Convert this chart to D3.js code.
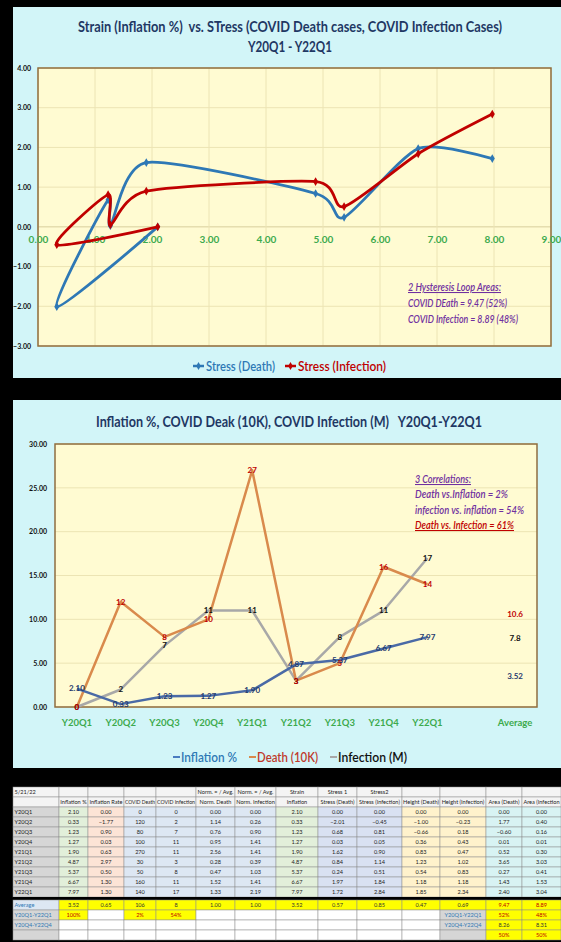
<!DOCTYPE html>
<html><head><meta charset="utf-8">
<script src="https://cdn.jsdelivr.net/npm/d3@7"></script>
<style>body{margin:0;background:#000}svg{display:block}text{font-family:Lato,"Open Sans",sans-serif}</style>
</head><body><svg id="c" width="561" height="942"></svg>
<script>
// ---------------- DATA ----------------
const quarters = ["Y20Q1","Y20Q2","Y20Q3","Y20Q4","Y21Q1","Y21Q2","Y21Q3","Y21Q4","Y22Q1"];
const inflation = [2.10,0.33,1.23,1.27,1.90,4.87,5.37,6.67,7.97];
const inflationRate = [0.00,-1.77,0.90,0.03,0.63,2.97,0.50,1.30,1.30];
const covidDeath = [0,120,80,100,270,30,50,160,140];
const covidInfection = [0,2,7,11,11,3,8,11,17];
const normDeath = [0.00,1.14,0.76,0.95,2.56,0.28,0.47,1.52,1.33];
const normInfection = [0.00,0.26,0.90,1.41,1.41,0.39,1.03,1.41,2.19];
const stressDeath = [0.00,-2.01,0.68,0.03,1.62,0.84,0.24,1.97,1.72];
const stressInfection = [0.00,-0.45,0.81,0.05,0.90,1.14,0.51,1.84,2.84];
const heightDeath = [0.00,-1.00,-0.66,0.36,0.83,1.23,0.54,1.18,1.85];
const heightInfection = [0.00,-0.23,0.18,0.43,0.47,1.02,0.83,1.18,2.34];
const areaDeath = [0.00,1.77,-0.60,0.01,0.52,3.65,0.27,1.43,2.40];
const areaInfection = [0.00,0.40,0.16,0.01,0.30,3.03,0.41,1.53,3.04];
const death10K = [0,12,8,10,27,3,5,16,14];
const averageLabels = [{v:10.6,t:"10.6",s:"death"},{v:7.8,t:"7.8",s:"infection"},{v:3.52,t:"3.52",s:"inflation"}];
const categories = [...quarters, "", "Average"];
const topXTicks = [0,1,2,3,4,5,6,7,8,9];
const topYTicks = [-3,-2,-1,0,1,2,3,4];
const botYTicks = [0,5,10,15,20,25,30];
const header1 = ["5/21/22","","","","","Norm. = / Avg.","Norm. = / Avg.","Strain","Stress 1","Stress2","","","",""];
const header2 = ["","Inflation %","Inflation Rate","COVID Death","COVID Infection","Norm. Death","Norm. Infection","Inflation","Stress (Death)","Stress (Infection)","Height (Death)","Height (Infection)","Area (Death)","Area (Infection"];
const averageRow = ["Average","3.52","0.65","106","8","1.00","1.00","3.52","0.57","0.85","0.47","0.69","9.47","8.89"];
const extraRows = [
  ["Y20Q1-Y22Q1","100%","","2%","54%","","","","","","","Y20Q1-Y22Q1","52%","48%"],
  ["Y20Q4-Y22Q4","","","","","","","","","","","Y20Q4-Y22Q4","8.26","8.31"],
  ["","","","","","","","","","","","","50%","50%"]
];

// ---------------- SETUP ----------------
const svg = d3.select("#c");
const f2 = d3.format(".2f");
const panelFill = "#d2f5f8", plotFill = "#fffbd2", plotBorder = "#8f6d40", gridCol = "#ece4b4";
const navy = "#1f3864", purple = "#7030a0", green = "#3daa4e";
const cBlue = "#2e78b5", cRed = "#c00000";

function fit(sel, w){ sel.attr("textLength", w).attr("lengthAdjust","spacingAndGlyphs"); return sel; }

svg.append("rect").attr("width",561).attr("height",942).attr("fill","#000");
svg.append("rect").attr("x",13).attr("y",7).attr("width",548).attr("height",371).attr("fill",panelFill);
svg.append("rect").attr("x",13).attr("y",400).attr("width",548).attr("height",368).attr("fill",panelFill);

// ---------------- TOP CHART ----------------
const tx = d3.scaleLinear().domain([0,9]).range([38,551]);
const ty = d3.scaleLinear().domain([-3,4]).range([346,68]);
const gTop = svg.append("g");

fit(gTop.append("text").attr("x",290).attr("y",32).attr("text-anchor","middle").attr("font-size",15).attr("font-weight",700).attr("fill",navy)
  .style("white-space","pre").text("Strain (Inflation %)  vs. STress (COVID Death cases, COVID Infection Cases)"), 424);
fit(gTop.append("text").attr("x",290).attr("y",52).attr("text-anchor","middle").attr("font-size",15).attr("font-weight",700).attr("fill",navy)
  .text("Y20Q1 - Y22Q1"), 84);

gTop.append("rect").attr("x",tx(0)).attr("y",ty(4)).attr("width",tx(9)-tx(0)).attr("height",ty(-3)-ty(4)).attr("fill",plotFill);
gTop.append("g").selectAll("line").data(topYTicks).join("line")
  .attr("x1",tx(0)).attr("x2",tx(9)).attr("y1",d=>ty(d)).attr("y2",d=>ty(d)).attr("stroke",d=>d===0?"#d8cf9c":gridCol).attr("stroke-width",1);
gTop.append("g").selectAll("line").data(topXTicks).join("line")
  .attr("y1",ty(4)).attr("y2",ty(-3)).attr("x1",d=>tx(d)).attr("x2",d=>tx(d)).attr("stroke",gridCol).attr("stroke-width",1);
gTop.append("rect").attr("x",tx(0)).attr("y",ty(4)).attr("width",tx(9)-tx(0)).attr("height",ty(-3)-ty(4)).attr("fill","none").attr("stroke",plotBorder).attr("stroke-width",1.5);

const yAxT = gTop.append("g").attr("transform",`translate(${tx(0)-4},0)`)
  .call(d3.axisLeft(ty).tickValues(topYTicks).tickFormat(f2).tickSize(0));
yAxT.select(".domain").remove();
yAxT.selectAll("text").attr("font-size",7).attr("font-weight",700).attr("fill","#111").attr("font-family","Lato,sans-serif");

const xAxT = gTop.append("g").attr("transform",`translate(0,${ty(0)+6})`)
  .call(d3.axisBottom(tx).tickValues(topXTicks).tickFormat(f2).tickSize(0));
xAxT.select(".domain").remove();
xAxT.selectAll("text").attr("font-size",10).attr("font-weight",700).attr("fill",green).attr("font-family","Lato,sans-serif");

const curve = d3.curveCardinal.tension(0.3);
const sLine = d3.line().x(d=>tx(d[0])).y(d=>ty(d[1])).curve(curve);
const deathPts = inflation.map((x,i)=>[x, stressDeath[i]]);
const infPts = inflation.map((x,i)=>[x, stressInfection[i]]);
[[deathPts,cBlue],[infPts,cRed]].forEach(([pts,col])=>{
  gTop.append("path").datum(pts).attr("d",sLine).attr("fill","none").attr("stroke",col).attr("stroke-width",2.8).attr("stroke-linejoin","round");
  gTop.append("g").selectAll("path").data(pts).join("path")
    .attr("d",d3.symbol(d3.symbolDiamond,22)).attr("transform",d=>`translate(${tx(d[0])},${ty(d[1])})`).attr("fill",col);
});

// top annotation
const annT = gTop.append("g").attr("fill",purple).attr("font-style","italic").attr("font-size",10.5).attr("font-weight",600);
fit(annT.append("text").attr("x",408).attr("y",291).attr("text-decoration","underline").text("2 Hysteresis Loop Areas:"),93);
fit(annT.append("text").attr("x",408).attr("y",307).text("COVID DEath = 9.47 (52%)"),99);
fit(annT.append("text").attr("x",408).attr("y",323).text("COVID Infection = 8.89 (48%)"),110);

// top legend
[[193,cBlue,"Stress (Death)",69],[285,cRed,"Stress (Infection)",88]].forEach(([x,col,t,w])=>{
  gTop.append("line").attr("x1",x).attr("x2",x+11).attr("y1",366).attr("y2",366).attr("stroke",col).attr("stroke-width",2.5);
  gTop.append("path").attr("d",d3.symbol(d3.symbolDiamond,18)).attr("transform",`translate(${x+5.5},366)`).attr("fill",col);
  fit(gTop.append("text").attr("x",x+13).attr("y",371).attr("font-size",14).attr("font-weight",600).attr("fill",col).text(t),w);
});

// ---------------- BOTTOM CHART ----------------
const bx = d3.scaleBand().domain(categories).range([55,537]);
const bc = d => bx(d) + bx.bandwidth()/2;
const by = d3.scaleLinear().domain([0,30]).range([707,444]);
const gBot = svg.append("g");

fit(gBot.append("text").attr("x",289).attr("y",427).attr("text-anchor","middle").attr("font-size",15).attr("font-weight",700).attr("fill",navy)
  .style("white-space","pre").text("Inflation %, COVID Deak (10K), COVID Infection (M)   Y20Q1-Y22Q1"), 386);

gBot.append("rect").attr("x",55).attr("y",by(30)).attr("width",482).attr("height",by(0)-by(30)).attr("fill",plotFill);
gBot.append("g").selectAll("line").data(botYTicks).join("line")
  .attr("x1",55).attr("x2",537).attr("y1",d=>by(d)).attr("y2",d=>by(d)).attr("stroke",gridCol);
gBot.append("rect").attr("x",55).attr("y",by(30)).attr("width",482).attr("height",by(0)-by(30)).attr("fill","none").attr("stroke",plotBorder).attr("stroke-width",1.5);

const yAxB = gBot.append("g").attr("transform","translate(50,0)")
  .call(d3.axisLeft(by).tickValues(botYTicks).tickFormat(f2).tickSize(0));
yAxB.select(".domain").remove();
yAxB.selectAll("text").attr("font-size",7).attr("font-weight",700).attr("fill","#111").attr("font-family","Lato,sans-serif");

const xAxB = gBot.append("g").attr("transform",`translate(0,${by(0)+9})`)
  .call(d3.axisBottom(bx).tickSize(0));
xAxB.select(".domain").remove();
xAxB.selectAll("text").attr("font-size",9.5).attr("font-weight",700).attr("fill",green).attr("font-family","Lato,sans-serif");

const series = [
  {key:"infection", vals:covidInfection, col:"#a8a8a8", lab:"#111", fmt:d=>String(d)},
  {key:"death", vals:death10K, col:"#d98a4c", lab:"#c00000", fmt:d=>String(d)},
  {key:"inflation", vals:inflation, col:"#4a6aa6", lab:"#1f3a6e", fmt:f2}
];
const bLine = d3.line().x((d,i)=>bc(quarters[i])).y(d=>by(d));
series.forEach(s=>{
  gBot.append("path").datum(s.vals).attr("d",bLine).attr("fill","none").attr("stroke",s.col).attr("stroke-width",2.5).attr("stroke-linejoin","round");
});
series.forEach(s=>{
  gBot.append("g").selectAll("text").data(s.vals).join("text")
    .attr("x",(d,i)=>bc(quarters[i])).attr("y",d=>by(d)).attr("dy","0.35em").attr("text-anchor","middle")
    .attr("font-size",8).attr("font-weight",700).attr("fill",s.lab).text(s.fmt);
});
const labCol = {death:"#c00000", infection:"#111", inflation:"#1f3a6e"};
gBot.append("g").selectAll("text").data(averageLabels).join("text")
  .attr("x",bc("Average")).attr("y",d=>by(d.v)).attr("dy","0.35em").attr("text-anchor","middle")
  .attr("font-size",8).attr("font-weight",700).attr("fill",d=>labCol[d.s]).text(d=>d.t);

// bottom annotation
const annB = gBot.append("g").attr("font-style","italic").attr("font-size",10.5).attr("font-weight",600);
fit(annB.append("text").attr("x",415).attr("y",483).attr("fill",purple).attr("text-decoration","underline").text("3 Correlations:"),56);
fit(annB.append("text").attr("x",415).attr("y",498).attr("fill",purple).text("Death vs.Inflation = 2%"),93);
fit(annB.append("text").attr("x",415).attr("y",514).attr("fill",purple).text("infection vs. inflation = 54%"),109);
fit(annB.append("text").attr("x",415).attr("y",529).attr("fill",cRed).attr("text-decoration","underline").text("Death vs. Infection = 61%"),99);

// bottom legend
[[173,"#4a7cc0","#2e78b5","Inflation %",56],[249,"#d98a4c","#c0392b","Death (10K)",61],[330,"#a8a8a8","#111","Infection (M)",69]].forEach(([x,lc,tc,t,w])=>{
  gBot.append("line").attr("x1",x).attr("x2",x+7).attr("y1",757).attr("y2",757).attr("stroke",lc).attr("stroke-width",2);
  fit(gBot.append("text").attr("x",x+8).attr("y",762).attr("font-size",14).attr("font-weight",600).attr("fill",tc).text(t),w);
});

// ---------------- TABLE ----------------
const colX = [13,59,88,124,156,196,235,276,318,357,402,440,486,522,561];
const dataFills = ["#d6d6d6","#e2efda","#fce4d6","#dde7f3","#dde7f3","#dde7f3","#dde7f3","#e2efda","#d9e1f2","#d9e1f2","#fff2cc","#fff2cc","#d8f3f3","#d8f3f3"];
const tbl = svg.append("g");
const rowsData = quarters.map((q,i)=>[q,f2(inflation[i]),f2(inflationRate[i]),String(covidDeath[i]),String(covidInfection[i]),f2(normDeath[i]),f2(normInfection[i]),f2(inflation[i]),f2(stressDeath[i]),f2(stressInfection[i]),f2(heightDeath[i]),f2(heightInfection[i]),f2(areaDeath[i]),f2(areaInfection[i])]);

function drawRow(cells, y, h, fillFn, colorFn){
  cells.forEach((t,c)=>{
    const x0 = colX[c], w = colX[c+1]-colX[c];
    tbl.append("rect").attr("x",x0).attr("y",y).attr("width",w).attr("height",h).attr("fill",fillFn(c,t)).attr("stroke","#8c8c8c").attr("stroke-width",0.5);
    if(t!==""){
      const el = tbl.append("text").attr("x",c===0?x0+1.5:x0+w/2).attr("y",y+h/2).attr("dy","0.35em")
        .attr("text-anchor",c===0?"start":"middle").attr("font-size",5.6).attr("fill",colorFn(c,t)).text(t);
      if(el.node().getComputedTextLength()>w-2) fit(el,w-2);
    }
  });
}
drawRow(header1,787,10,()=> "#f4f4f4",()=> "#222");
drawRow(header2,797,10,()=> "#f4f4f4",()=> "#222");
rowsData.forEach((r,i)=>drawRow(r,807+i*10,10,c=>dataFills[c],()=> "#222"));
tbl.append("rect").attr("x",13).attr("y",897).attr("width",548).attr("height",3).attr("fill","#000");
drawRow(averageRow,900,10,c=>c===0?"#dde7f3":"#ffff00",(c)=>c===0?"#2e78b5":(c>=12?"#c00000":"#333"));
extraRows.forEach((r,k)=>{
  drawRow(r,910+k*10,10,(c,t)=>{
    if(c===0) return "#d6d6d6";
    if(c===11) return "#d6d6d6";
    if(c>=12) return "#ffff00";
    if(k===0 && (c===1||c===3||c===4)) return "#ffff00";
    return "#ffffff";
  },(c,t)=>{
    if(c===0||c===11) return "#2e78b5";
    if(t.endsWith("%")) return "#c00000";
    return "#333";
  });
});
</script></body></html>
